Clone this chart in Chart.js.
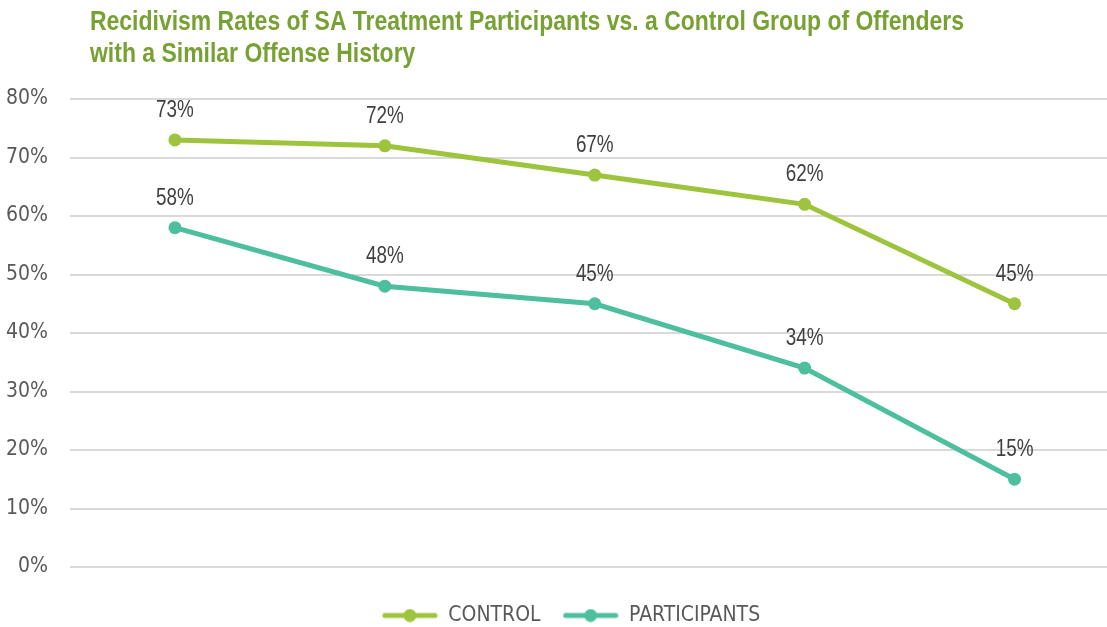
<!DOCTYPE html>
<html>
<head>
<meta charset="utf-8">
<script src="https://cdn.jsdelivr.net/npm/chart.js@4/dist/chart.umd.min.js"></script>
<style>
  html, body { margin: 0; padding: 0; background: #fff; }
  #wrap { width: 1107px; height: 627px; overflow: hidden; position: relative; }
  canvas { display: block; }
</style>
</head>
<body>
<div id="wrap"><canvas id="chart" width="1126" height="636"></canvas></div>
<script>
// values
const categories = ['1', '2', '3', '4', '5'];
const controlRates = [73, 72, 67, 62, 45];
const participantRates = [58, 48, 45, 34, 15];
const titleLines = [
  'Recidivism Rates of SA Treatment Participants vs. a Control Group of Offenders',
  'with a Similar Offense History',
];

// Arial Narrow is not installed: squeeze Liberation Sans by hand where we draw ourselves
const SANS = "'Liberation Sans', Arial, sans-serif";
const COND = "'DejaVu Sans Condensed', 'Liberation Sans', sans-serif";
const NARROW = 0.82;
const GREEN = '#9dc43c';
const TEAL = '#4dbf9f';

function narrowText(ctx, text, x, y) {
  ctx.save();
  ctx.translate(x, y);
  ctx.scale(NARROW, 1);
  ctx.fillText(text, 0, 0);
  ctx.restore();
}

// little line + dot marker for the legend
function legendMarker(color) {
  const c = document.createElement('canvas');
  c.width = 56;
  c.height = 14;
  const g = c.getContext('2d');
  g.strokeStyle = color;
  g.lineWidth = 5;
  g.lineCap = 'round';
  g.beginPath();
  g.moveTo(3, 7);
  g.lineTo(53, 7);
  g.stroke();
  g.fillStyle = color;
  g.beginPath();
  g.arc(28, 7, 6.5, 0, Math.PI * 2);
  g.fill();
  return c;
}
const markers = [legendMarker(GREEN), legendMarker(TEAL)];

// title drawn top-left
const titlePlugin = {
  id: 'topTitle',
  afterDraw(chart) {
    const ctx = chart.ctx;
    ctx.save();
    ctx.font = 'bold 28px ' + SANS;
    ctx.fillStyle = '#77a132';
    ctx.textBaseline = 'alphabetic';
    narrowText(ctx, titleLines[0], 90, 30);
    narrowText(ctx, titleLines[1], 90, 62);
    ctx.restore();
  },
};

// value labels above each point
const valueLabels = {
  id: 'valueLabels',
  afterDatasetsDraw(chart) {
    const ctx = chart.ctx;
    ctx.save();
    ctx.font = '23px ' + SANS;
    ctx.fillStyle = '#404040';
    ctx.textAlign = 'center';
    ctx.textBaseline = 'alphabetic';
    chart.data.datasets.forEach((ds, i) => {
      chart.getDatasetMeta(i).data.forEach((pt, j) => {
        narrowText(ctx, ds.data[j] + '%', pt.x, pt.y - 23);
      });
    });
    ctx.restore();
  },
};

// nudge the legend to where the reference has it
const legendShift = {
  id: 'legendShift',
  afterLayout(chart) {
    chart.legend.left += 8;
    chart.legend.right += 8;
  },
};

const chart = new Chart(document.getElementById('chart'), {
  type: 'line',
  data: {
    labels: categories,
    datasets: [
      {
        label: 'CONTROL',
        data: controlRates,
        borderColor: GREEN,
        backgroundColor: GREEN,
        borderWidth: 5,
        pointRadius: 6.5,
        pointHoverRadius: 6.5,
        pointBorderWidth: 0,
      },
      {
        label: 'PARTICIPANTS',
        data: participantRates,
        borderColor: TEAL,
        backgroundColor: TEAL,
        borderWidth: 5,
        pointRadius: 6.5,
        pointHoverRadius: 6.5,
        pointBorderWidth: 0,
      },
    ],
  },
  options: {
    responsive: false,
    animation: false,
    layout: { padding: { top: 99, left: 0, right: 0, bottom: 0 } },
    plugins: {
      title: { display: false },
      tooltip: { enabled: false },
      legend: {
        position: 'bottom',
        labels: {
          usePointStyle: true,
          pointStyleWidth: 56,
          boxHeight: 14,
          padding: 22,
          color: '#595959',
          font: { family: COND, size: 21 },
          generateLabels(ch) {
            const items = Chart.defaults.plugins.legend.labels.generateLabels(ch);
            items.forEach((it, i) => { it.pointStyle = markers[i]; });
            return items;
          },
        },
      },
    },
    scales: {
      x: {
        offset: true,
        ticks: { display: false },
        grid: { display: false },
        border: { display: false },
        afterFit(s) { s.height = 16; },
      },
      y: {
        min: 0,
        max: 80,
        ticks: {
          stepSize: 10,
          padding: 22,
          color: '#595959',
          font: { family: COND, size: 21 },
          callback: (v) => v + '%',
        },
        grid: { color: '#d9d9d9', lineWidth: 2, drawTicks: false },
        border: { display: false },
        afterFit(s) { s.width = 70; },
      },
    },
  },
  plugins: [titlePlugin, valueLabels, legendShift],
});
</script>
</body>
</html>
